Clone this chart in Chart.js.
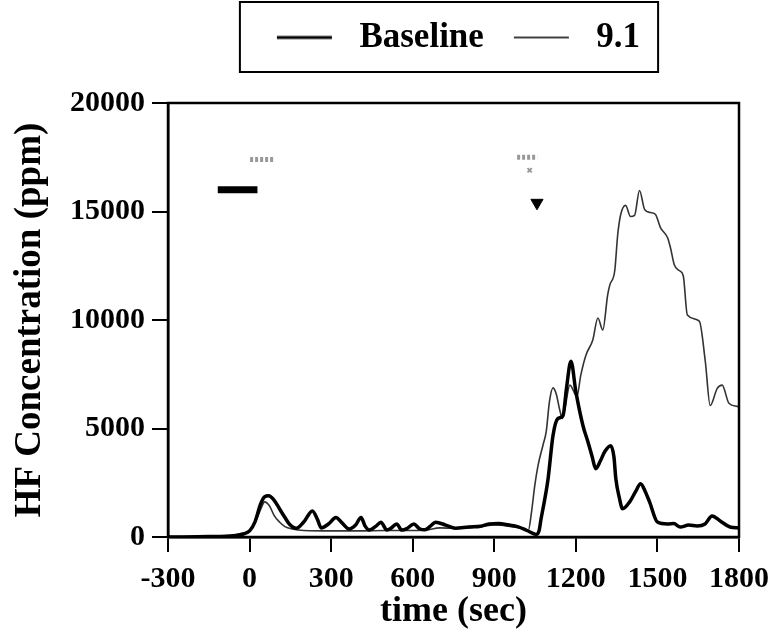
<!DOCTYPE html>
<html>
<head>
<meta charset="utf-8">
<script src="https://cdn.jsdelivr.net/npm/chart.js@4/dist/chart.umd.min.js"></script>
<style>
  html, body { margin: 0; padding: 0; background: #fff; }
  #wrap { width: 778px; height: 630px; }
</style>
</head>
<body>
<div id="wrap"><canvas id="hf-chart"></canvas></div>
<script>
// time (sec) / HF concentration (ppm)
const baselineX = [-300, -150, -60, -20, 0, 20, 40, 55, 70, 90, 110, 130, 146, 172, 200, 231, 250, 263, 290, 318, 340, 366, 390, 410, 425, 440, 465, 483, 505, 520, 541, 560, 580, 604, 625, 645, 665, 684, 721, 757, 805, 850, 880, 915, 951, 988, 1020, 1054, 1065, 1072, 1085, 1098, 1116, 1134, 1153, 1165, 1182, 1200, 1226, 1244, 1260, 1273, 1290, 1306, 1328, 1340, 1347, 1360, 1372, 1398, 1420, 1438, 1455, 1471, 1500, 1537, 1560, 1584, 1615, 1646, 1675, 1701, 1731, 1767, 1800];
const baselineY = [0, 20, 60, 150, 280, 700, 1500, 1850, 1900, 1700, 1300, 900, 600, 400, 700, 1200, 800, 420, 600, 900, 650, 370, 550, 900, 500, 320, 500, 680, 320, 400, 600, 320, 400, 600, 380, 330, 500, 680, 550, 400, 460, 500, 600, 620, 560, 470, 300, 120, 300, 830, 1700, 2700, 4680, 5460, 5600, 6800, 8100, 6700, 5140, 4400, 3700, 3150, 3500, 3930, 4210, 3700, 2690, 1800, 1300, 1620, 2100, 2450, 2100, 1620, 690, 600, 620, 460, 550, 510, 600, 970, 740, 460, 420];

const run91X = [-300, -100, -60, -30, 0, 25, 45, 55, 73, 90, 110, 130, 157, 200, 300, 400, 500, 600, 650, 700, 760, 800, 850, 900, 950, 1000, 1025, 1037, 1049, 1061, 1079, 1091, 1103, 1116, 1127, 1142, 1150, 1160, 1178, 1204, 1218, 1237, 1262, 1281, 1299, 1317, 1325, 1343, 1354, 1365, 1383, 1401, 1416, 1434, 1453, 1475, 1493, 1511, 1537, 1548, 1562, 1581, 1595, 1610, 1654, 1676, 1694, 1720, 1738, 1763, 1793, 1800];
const run91Y = [0, 10, 60, 150, 300, 800, 1400, 1620, 1440, 1000, 690, 480, 370, 300, 280, 280, 300, 300, 320, 420, 400, 420, 480, 550, 500, 400, 300, 1160, 2380, 3300, 4230, 4860, 6250, 6870, 6620, 5790, 5460, 5930, 7000, 6480, 7450, 8380, 9070, 10090, 9540, 11160, 11620, 12270, 13940, 14860, 15280, 14770, 14820, 15970, 15090, 14950, 14860, 14260, 13800, 13330, 12550, 12270, 12040, 10230, 9950, 8100, 6060, 6850, 7000, 6160, 6020, 6000];

// annotation marks near the top of the plot
const barX = [-117, 29];
const barY = [16000, 16000];
const arrowX = [1057];
const arrowY = [15400];
const greyMark1X = [2, 90];
const greyMark1Y = [17400, 17400];
const greyMark2X = [984, 1058];
const greyMark2Y = [17500, 17500];
const greyMark3X = [1030];
const greyMark3Y = [16900];

const xTicks = [-300, 0, 300, 600, 900, 1200, 1500, 1800];
const yTicks = [0, 5000, 10000, 15000, 20000];

const toPoints = (xs, ys) => xs.map((x, i) => ({ x: x, y: ys[i] }));

const SERIF = "'Liberation Serif', 'Times New Roman', serif";

// legend sample: short blank, then the line, then room before the text
function legendLine(width) {
  const c = document.createElement("canvas");
  c.width = 75;
  c.height = 8;
  const g = c.getContext("2d");
  g.strokeStyle = "#000";
  g.lineWidth = width;
  g.beginPath();
  g.moveTo(10, 4);
  g.lineTo(65, 4);
  g.stroke();
  return c;
}

// frame around the plot, box around the legend, legend centred on the plot
const framePlugin = {
  id: "frame",
  afterLayout(chart) {
    const lg = chart.legend;
    lg.left = chart.chartArea.left;
    lg.right = chart.chartArea.right;
    lg.width = lg.right - lg.left;
  },
  afterDraw(chart) {
    const ctx = chart.ctx;
    const a = chart.chartArea;
    ctx.save();
    ctx.strokeStyle = "#000";
    ctx.lineWidth = 2.5;
    ctx.strokeRect(a.left, a.top, a.right - a.left, a.bottom - a.top);
    const boxes = chart.legend.legendHitBoxes;
    if (boxes && boxes.length) {
      const l = Math.min(...boxes.map(b => b.left)) - 27;
      const r = Math.max(...boxes.map(b => b.left + b.width)) + 18;
      const t = Math.min(...boxes.map(b => b.top)) - 18;
      const btm = Math.max(...boxes.map(b => b.top + b.height)) + 17;
      ctx.lineWidth = 2;
      ctx.strokeRect(l, t, r - l, btm - t);
    }
    ctx.restore();
  }
};

const ctx = document.getElementById("hf-chart").getContext("2d");
new Chart(ctx, {
  type: "line",
  data: {
    datasets: [
      {
        label: "Baseline",
        data: toPoints(baselineX, baselineY),
        borderColor: "#000",
        borderWidth: 3.5,
        pointRadius: 0,
        cubicInterpolationMode: "monotone",
        fill: false,
      },
      {
        label: "9.1",
        data: toPoints(run91X, run91Y),
        borderColor: "#333",
        borderWidth: 1.6,
        pointRadius: 0,
        cubicInterpolationMode: "monotone",
        fill: false,
      },
      {
        label: "bar",
        data: toPoints(barX, barY),
        borderColor: "#000",
        borderWidth: 7,
        borderCapStyle: "butt",
        pointRadius: 0,
      },
      {
        label: "arrow",
        data: toPoints(arrowX, arrowY),
        showLine: false,
        pointStyle: "triangle",
        rotation: 180,
        pointRadius: 7,
        backgroundColor: "#000",
        borderColor: "#000",
      },
      {
        label: "mark1",
        data: toPoints(greyMark1X, greyMark1Y),
        borderColor: "#999",
        borderWidth: 5,
        borderDash: [3, 2],
        borderCapStyle: "butt",
        pointRadius: 0,
      },
      {
        label: "mark2",
        data: toPoints(greyMark2X, greyMark2Y),
        borderColor: "#999",
        borderWidth: 5,
        borderDash: [3, 2],
        borderCapStyle: "butt",
        pointRadius: 0,
      },
      {
        label: "mark3",
        data: toPoints(greyMark3X, greyMark3Y),
        showLine: false,
        pointStyle: "crossRot",
        pointRadius: 3,
        borderWidth: 2,
        borderColor: "#999",
      },
    ],
  },
  options: {
    responsive: true,
    maintainAspectRatio: false,
    animation: false,
    layout: { padding: { left: 0, right: 37, top: 0, bottom: 0 } },
    plugins: {
      tooltip: { enabled: false },
      // empty title used as a spacer between the legend and the plot
      title: {
        display: true,
        text: " ",
        weight: 500,
        font: { size: 10 },
        padding: { top: 13, bottom: 13 },
      },
      legend: {
        position: "top",
        labels: {
          color: "#000",
          font: { family: SERIF, size: 35, weight: "bold" },
          usePointStyle: true,
          pointStyleWidth: 75,
          padding: 20,
          filter: item => item.datasetIndex < 2,
          generateLabels(chart) {
            const items = Chart.defaults.plugins.legend.labels.generateLabels(chart);
            items.forEach(it => {
              it.pointStyle = legendLine(it.datasetIndex === 0 ? 3 : 1.4);
            });
            return items;
          },
        },
      },
    },
    scales: {
      x: {
        type: "linear",
        min: -300,
        max: 1800,
        afterBuildTicks(scale) {
          scale.ticks = xTicks.map(v => ({ value: v }));
        },
        afterFit(scale) {
          scale.height = 93;
        },
        border: { display: true, color: "#000", width: 2.5 },
        grid: { display: true, drawOnChartArea: false, drawTicks: true, tickLength: 15, color: "#000", lineWidth: 2 },
        ticks: {
          color: "#000",
          font: { family: SERIF, size: 30, weight: "bold" },
          padding: 9,
          maxRotation: 0,
          callback: v => String(v),
        },
        title: {
          display: true,
          text: "time (sec)",
          color: "#000",
          font: { family: SERIF, size: 36, weight: "bold", lineHeight: 1 },
          padding: { top: 0, bottom: 0 },
        },
      },
      y: {
        min: 0,
        max: 20000,
        afterBuildTicks(scale) {
          scale.ticks = yTicks.map(v => ({ value: v }));
        },
        afterFit(scale) {
          scale.width = 168;
        },
        border: { display: true, color: "#000", width: 2.5 },
        grid: { display: true, drawOnChartArea: false, drawTicks: true, tickLength: 16, color: "#000", lineWidth: 2 },
        ticks: {
          color: "#000",
          font: { family: SERIF, size: 30, weight: "bold" },
          padding: 7,
          callback: v => String(v),
        },
        title: {
          display: true,
          text: "HF Concentration (ppm)",
          color: "#000",
          font: { family: SERIF, size: 37, weight: "bold", lineHeight: 1 },
          padding: { top: 12, bottom: 0 },
        },
      },
    },
  },
  plugins: [framePlugin],
});
</script>
</body>
</html>
